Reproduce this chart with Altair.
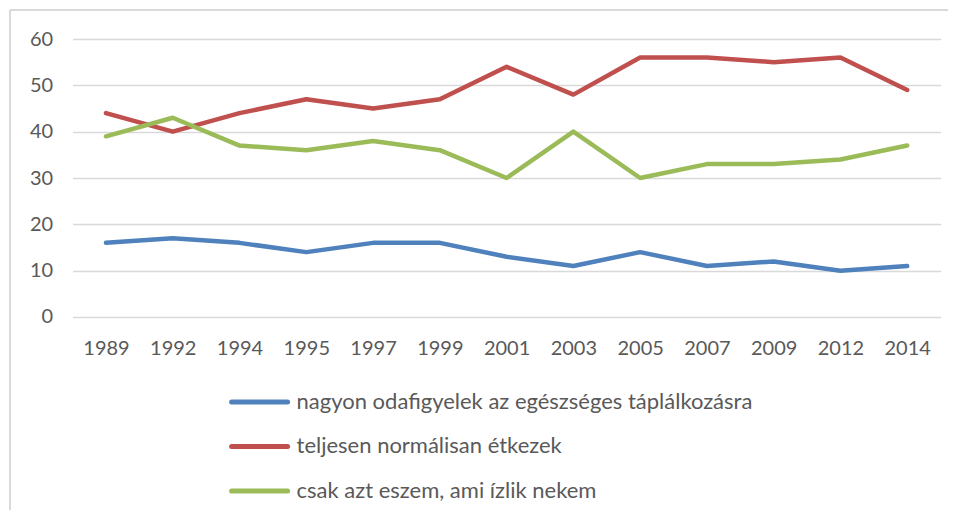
import altair as alt
import pandas as pd

years = ["1989", "1992", "1994", "1995", "1997", "1999", "2001",
         "2003", "2005", "2007", "2009", "2012", "2014"]
series_names = [
    "nagyon odafigyelek az egészséges táplálkozásra",
    "teljesen normálisan étkezek",
    "csak azt eszem, ami ízlik nekem",
]
blue_vals = [16, 17, 16, 14, 16, 16, 13, 11, 14, 11, 12, 10, 11]
red_vals = [44, 40, 44, 47, 45, 47, 54, 48, 56, 56, 55, 56, 49]
green_vals = [39, 43, 37, 36, 38, 36, 30, 40, 30, 33, 33, 34, 37]
colors = ["#4F81BD", "#C0504D", "#9BBB59"]
y_ticks = [0, 10, 20, 30, 40, 50, 60]

rows = []
for name, vals in zip(series_names, [blue_vals, red_vals, green_vals]):
    for yr, v in zip(years, vals):
        rows.append({"year": yr, "value": v, "series": name})
df = pd.DataFrame(rows)
legend_df = pd.DataFrame({"series": series_names, "row": [0, 1, 2]})

FONT = "Lato"
GRAY = "#595959"
W, H = 868, 278
PL, PT = 64.6, 31

color_scale = alt.Scale(domain=series_names, range=colors)

lines = alt.Chart(df).mark_line(strokeWidth=4.5, strokeCap="round", strokeJoin="round").encode(
    x=alt.X("year:O", sort=years, title=None,
            scale=alt.Scale(padding=0.5),
            axis=alt.Axis(labelAngle=0, labelFont=FONT, labelFontSize=20,
                          labelColor=GRAY, labelPadding=22, domain=False,
                          ticks=False, grid=False)),
    y=alt.Y("value:Q", title=None,
            scale=alt.Scale(domain=[0, 60], nice=False),
            axis=alt.Axis(values=y_ticks, labelFont=FONT, labelFontSize=20,
                          labelColor=GRAY, labelPadding=20, domain=False,
                          ticks=False, grid=True, gridColor="#D9D9D9",
                          gridWidth=1.5)),
    color=alt.Color("series:N", scale=color_scale, legend=None),
    detail="series:N",
)

leg_y = alt.Y("row:Q", scale=alt.Scale(domain=[0, 2], range=[363, 452]), axis=None)

leg_rules = alt.Chart(legend_df).mark_rule(strokeWidth=5, strokeCap="round").encode(
    x=alt.value(159),
    x2=alt.value(215),
    y=leg_y,
    color=alt.Color("series:N", scale=color_scale, legend=None),
)
leg_text = alt.Chart(legend_df).mark_text(align="left", baseline="middle",
                                          font=FONT, fontSize=22, color=GRAY).encode(
    x=alt.value(224),
    y=leg_y,
    text="series:N",
)

frame_top = alt.Chart(legend_df.head(1)).mark_rule(color="#D9D9D9", strokeWidth=2).encode(
    x=alt.value(-62.6), x2=alt.value(W + 8), y=alt.value(-29)
)
frame_left = alt.Chart(legend_df.head(1)).mark_rule(color="#D9D9D9", strokeWidth=2).encode(
    x=alt.value(-62.6), y=alt.value(-29), y2=alt.value(H + 200)
)

chart = alt.layer(frame_top, frame_left, lines, leg_rules, leg_text).resolve_scale(
    y="independent"
).properties(
    width=W, height=H,
    autosize=alt.AutoSizeParams(type="none"),
    padding={"left": PL, "top": PT, "right": 7, "bottom": 193},
    background="white",
).configure_view(stroke=None)

chart.save("out.html", embed_options={"renderer": "svg", "actions": False})
